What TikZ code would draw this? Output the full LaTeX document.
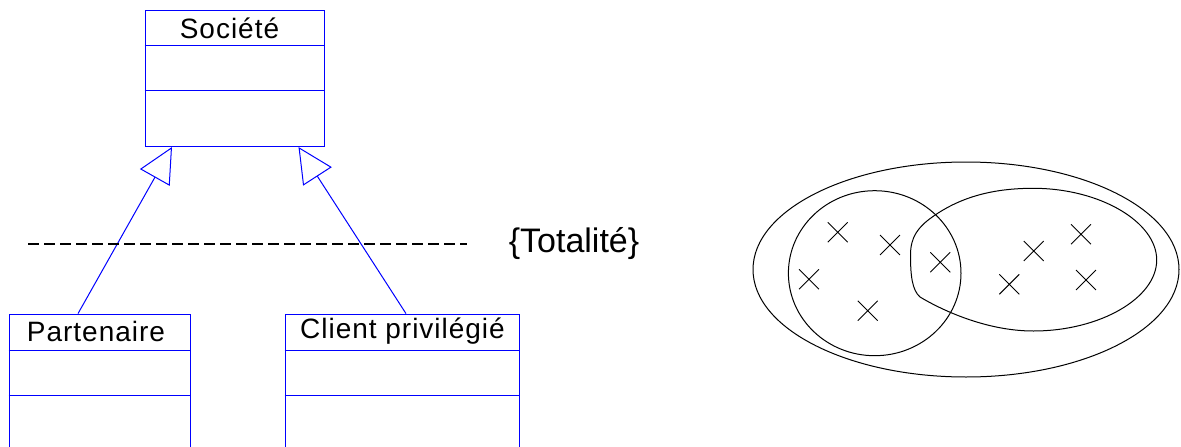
\documentclass[tikz,border=0pt]{standalone}
\usepackage{fontspec}
\setmainfont{Liberation Sans}
\newfontfamily\spacedfont[LetterSpace=3.5]{Liberation Sans}
\usetikzlibrary{arrows.meta,calc,shapes.misc,shapes.geometric}
\definecolor{umlblue}{RGB}{0,0,255}
\tikzset{
  classbox/.style={draw=umlblue, line width=1pt, rectangle, inner sep=0pt, anchor=north west},
  classname/.style={font=\spacedfont\fontsize{28}{31}\selectfont, inner sep=0pt, anchor=center},
  divider/.style={draw=umlblue, line width=1pt},
  genarrow/.style={draw=umlblue, line width=1pt, -{Triangle[open, length=35pt, width=34pt, line width=1pt]}},
  venn/.style={draw=black, line width=1pt},
  xmark/.style={cross out, draw=black, line width=0.9pt, minimum size=19pt, inner sep=0pt},
  constraintline/.style={draw=black, line width=2pt, dash pattern=on 11pt off 5pt}
}
\begin{document}
\begin{tikzpicture}[x=1pt, y=-1pt]
\clip (0,0) rectangle (1181,447);
\fill[white] (0,0) rectangle (1181,447);

% Société
\node[classbox, minimum width=179.6pt, minimum height=136pt] (soc) at (144.7,10) {};
\node[classname] (soct) at (229.5,28) {Société};
\draw[divider] ($(soc.north west)+(0,35.3)$) -- ($(soc.north east)+(0,35.3)$);
\draw[divider] ($(soc.north west)+(0,80)$) -- ($(soc.north east)+(0,80)$);

% Partenaire
\node[classbox, minimum width=181.1pt, minimum height=160pt] (part) at (8.5,313.6) {};
\node[classname] (partt) at (96,331) {Partenaire};
\draw[divider] ($(part.north west)+(0,36.4)$) -- ($(part.north east)+(0,36.4)$);
\draw[divider] ($(part.north west)+(0,81.4)$) -- ($(part.north east)+(0,81.4)$);

% Client privilégié
\node[classbox, minimum width=234.2pt, minimum height=160pt] (cli) at (284.7,313.6) {};
\node[classname] (clit) at (402.5,331) {Client privilégié};
\draw[divider] ($(cli.north west)+(0,36.4)$) -- ($(cli.north east)+(0,36.4)$);
\draw[divider] ($(cli.north west)+(0,81.4)$) -- ($(cli.north east)+(0,81.4)$);

% generalisation arrows
\draw[genarrow] ($(part.north west)+(69.5,0)$) -- ($(soc.south west)+(27.3,0)$);
\draw[genarrow] ($(cli.north west)+(121.3,0)$) -- ($(soc.south west)+(153.8,0)$);

% constraint
\coordinate (dl) at (28,244.3);
\coordinate (dr) at (467,244.3);
\draw[constraintline] (dl) -- (dr);
\node[font=\fontsize{34}{37}\selectfont, inner sep=0pt] (tot) at (574,244) {\{Totalité\}};

% Venn diagram
\node[venn, ellipse, minimum width=426pt, minimum height=215pt, inner sep=0pt] (outer) at (966,269.5) {};
\draw[venn] (874.7,273.2) ellipse [x radius=86.3, y radius=82.5];
\draw[venn] (932.7,216.7) .. controls (962,196) and (995,188.3) .. (1033.3,188.3)
  .. controls (1100,188.3) and (1156.7,222) .. (1156.7,260)
  .. controls (1156.7,298) and (1100,331) .. (1033.3,331)
  .. controls (985,331) and (940,309) .. (920,297)
  .. controls (912,290) and (910.5,275) .. (910.5,255)
  .. controls (910.5,237) and (918,227) .. (932.7,216.7) -- cycle;

\node[xmark] (x1) at (837.7,232.3) {};
\node[xmark] (x2) at (890,245) {};
\node[xmark] (x3) at (809,279.3) {};
\node[xmark] (x4) at (867.7,310.7) {};
\node[xmark] (x5) at (940.3,262.3) {};
\node[xmark] (x6) at (1033.7,251) {};
\node[xmark] (x7) at (1081,234.3) {};
\node[xmark] (x8) at (1009.3,284.3) {};
\node[xmark] (x9) at (1086,280) {};
\end{tikzpicture}
\end{document}
